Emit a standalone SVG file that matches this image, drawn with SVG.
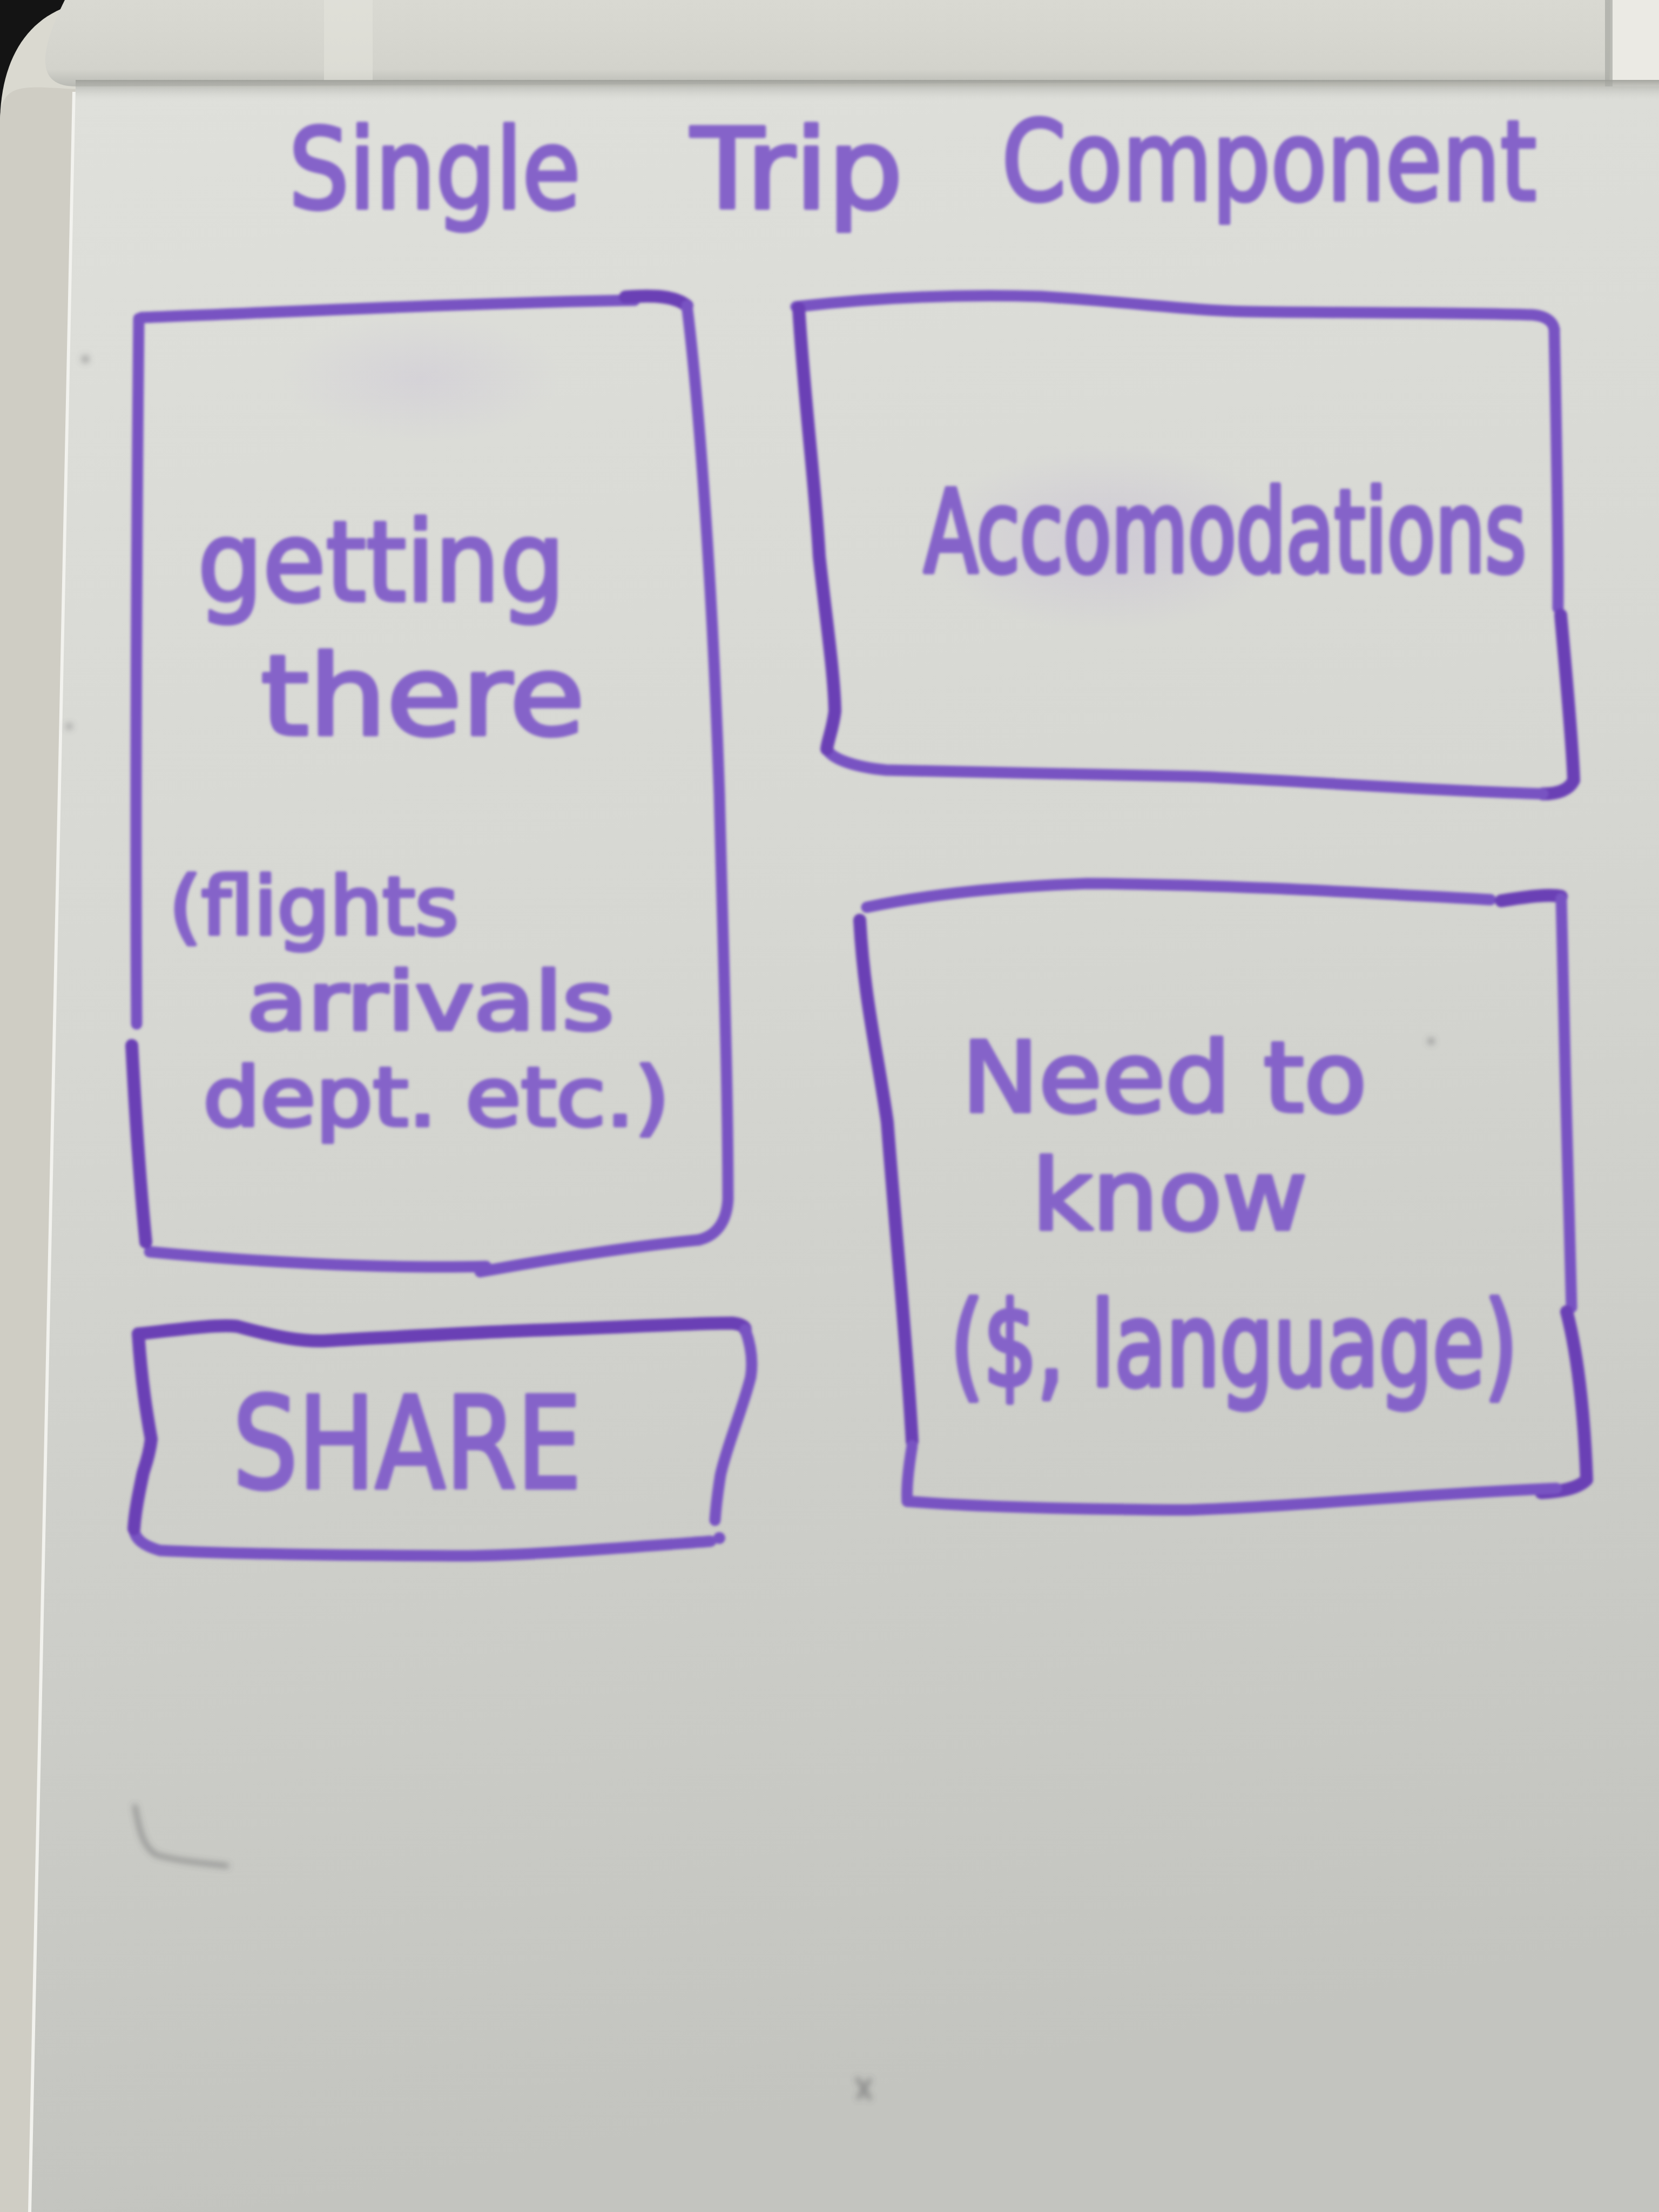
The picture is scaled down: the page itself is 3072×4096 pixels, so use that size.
<svg xmlns="http://www.w3.org/2000/svg" width="3072" height="4096" viewBox="0 0 3072 4096">
  <defs>
    <linearGradient id="boardFill" x1="0" y1="0" x2="0.15" y2="1">
      <stop offset="0" stop-color="#dfe0db"/>
      <stop offset="0.45" stop-color="#d6d7d2"/>
      <stop offset="1" stop-color="#c3c4bf"/>
    </linearGradient>
    <linearGradient id="ledgeFill" x1="0" y1="0" x2="0" y2="1">
      <stop offset="0" stop-color="#d9d9d2"/>
      <stop offset="0.8" stop-color="#d3d3cc"/>
      <stop offset="1" stop-color="#b9bab4"/>
    </linearGradient>
    <linearGradient id="shadowBand" x1="0" y1="0" x2="0" y2="1">
      <stop offset="0" stop-color="#9d9e98" stop-opacity="0.9"/>
      <stop offset="1" stop-color="#d8d9d4" stop-opacity="0"/>
    </linearGradient>
    <radialGradient id="ghost" cx="0.5" cy="0.5" r="0.5">
      <stop offset="0" stop-color="#a990d6" stop-opacity="0.22"/>
      <stop offset="1" stop-color="#a990d6" stop-opacity="0"/>
    </radialGradient>
    <filter id="soft" x="-5%" y="-5%" width="110%" height="110%">
      <feGaussianBlur stdDeviation="2.5"/>
    </filter>
    <filter id="smudge" x="-20%" y="-20%" width="140%" height="140%">
      <feGaussianBlur stdDeviation="6"/>
    </filter>
    <style>
      .ink { fill: none; stroke: #7853c2; stroke-width: 21; stroke-linecap: round; stroke-linejoin: round; }
      .heavy { stroke: #6a3fb5; stroke-width: 24; }
      .txt { font-family: "DejaVu Sans", "Liberation Sans", sans-serif; fill: #8564c9; stroke: #8564c9; stroke-width: 7; stroke-linejoin: round; }
      .mark { fill: none; stroke: #55565a; stroke-width: 8; stroke-linecap: round; opacity: 0.5; }
    </style>
  </defs>

  <!-- dark background behind the board corner -->
  <rect x="0" y="0" width="3072" height="4096" fill="#141414"/>

  <!-- board frame with rounded top-left corner -->
  <path d="M0,4096 L0,230 C0,90 70,0 200,0 L3072,0 L3072,4096 Z" fill="#dad9d0"/>

  <!-- left frame strip -->
  <path d="M0,230 C0,150 40,160 140,165 L58,4096 L0,4096 Z" fill="#cfcdc4"/>
  <path d="M138,170 L56,4096" stroke="#f2f2ee" stroke-width="8" fill="none"/>

  <!-- top ledge -->
  <path d="M120,0 L2980,0 L2980,150 L140,160 C80,160 60,120 120,0 Z" fill="url(#ledgeFill)"/>
  <rect x="600" y="0" width="90" height="150" fill="#e6e5de" opacity="0.5"/>
  <!-- right end cap of the ledge -->
  <rect x="2982" y="0" width="90" height="165" fill="#ebeae4"/>
  <rect x="2972" y="0" width="14" height="165" fill="#a7a8a2" opacity="0.7"/>

  <!-- writing surface -->
  <path d="M140,160 L3072,160 L3072,4096 L58,4096 Z" fill="url(#boardFill)"/>
  <rect x="140" y="148" width="2932" height="40" fill="url(#shadowBand)"/>

  <!-- faint erased ink ghosts -->
  <ellipse cx="2050" cy="1000" rx="330" ry="170" fill="url(#ghost)"/>
  <ellipse cx="780" cy="700" rx="260" ry="120" fill="url(#ghost)" opacity="0.6"/>

  <!-- stray specks on the board -->
  <g filter="url(#smudge)">
    <path class="mark" d="M250,3345 C258,3390 265,3420 290,3435 C340,3448 380,3450 420,3455"/>
    <path class="mark" d="M1588,3850 L1610,3885 M1610,3852 L1590,3884"/>
    <circle cx="2650" cy="1928" r="6" fill="#66666a" opacity="0.6"/>
    <circle cx="158" cy="665" r="7" fill="#66666a" opacity="0.5"/>
    <circle cx="128" cy="1345" r="6" fill="#66666a" opacity="0.5"/>
  </g>

  <!-- heading -->
  <g id="title" filter="url(#soft)">
    <text class="txt" x="535" y="385" font-size="205" textLength="540" lengthAdjust="spacingAndGlyphs">Single</text>
    <text class="txt" x="1280" y="385" font-size="205" textLength="392" lengthAdjust="spacingAndGlyphs">Trip</text>
    <text class="txt" x="1855" y="370" font-size="205" textLength="990" lengthAdjust="spacingAndGlyphs">Component</text>
  </g>

  <!-- node: getting there -->
  <g id="node-getting-there" filter="url(#soft)">
    <path class="ink" d="M262,588 C520,578 900,560 1175,556"/>
    <path class="ink heavy" d="M1158,550 C1210,546 1250,548 1272,566"/>
    <path class="ink" d="M1272,566 C1295,750 1320,1100 1332,1470 C1340,1800 1348,2000 1348,2221 C1345,2270 1320,2290 1294,2296"/>
    <path class="ink" d="M1294,2296 C1150,2310 1000,2335 889,2355"/>
    <path class="ink" d="M277,2318 C450,2335 700,2350 900,2345"/>
    <path class="ink" d="M257,590 C254,900 250,1400 253,1896"/>
    <path class="ink heavy" d="M244,1936 C250,2050 258,2180 270,2300"/>
    <text class="txt" x="366" y="1112" font-size="205" textLength="680" lengthAdjust="spacingAndGlyphs">getting</text>
    <text class="txt" x="483" y="1360" font-size="205" textLength="600" lengthAdjust="spacingAndGlyphs">there</text>
    <text class="txt" x="313" y="1730" font-size="148" textLength="536" lengthAdjust="spacingAndGlyphs">(flights</text>
    <text class="txt" x="457" y="1906" font-size="148" textLength="680" lengthAdjust="spacingAndGlyphs">arrivals</text>
    <text class="txt" x="376" y="2084" font-size="150" textLength="864" lengthAdjust="spacingAndGlyphs">dept. etc.)</text>
  </g>

  <!-- node: accomodations (narrow, tall lettering via vertical stretch) -->
  <g id="node-accomodations" filter="url(#soft)">
    <path class="ink" d="M1474,568 C1650,548 1800,545 1928,549 C2100,560 2200,575 2311,577 C2500,580 2700,578 2838,583 C2862,585 2876,595 2878,610"/>
    <path class="ink" d="M2878,610 C2882,800 2886,1000 2885,1126"/>
    <path class="ink heavy" d="M2890,1139 C2900,1250 2912,1380 2914,1445 C2906,1462 2885,1470 2857,1470"/>
    <path class="ink" d="M2857,1470 C2600,1462 2400,1445 2216,1438 C1950,1432 1750,1430 1641,1426 C1580,1420 1540,1405 1531,1387"/>
    <path class="ink heavy" d="M1479,571 C1490,750 1510,900 1517,1030 C1530,1150 1545,1250 1546,1317 C1542,1350 1533,1370 1531,1387"/>
    <text class="txt" transform="translate(1711,1058) scale(1,1.44)" x="0" y="0" font-size="146" textLength="1115" lengthAdjust="spacingAndGlyphs">Accomodations</text>
  </g>

  <!-- node: need to know -->
  <g id="node-need-to-know" filter="url(#soft)">
    <path class="ink" d="M1605,1680 C1750,1650 1900,1640 2013,1636 C2300,1638 2550,1655 2760,1666"/>
    <path class="ink heavy" d="M2780,1668 C2830,1660 2870,1655 2891,1660"/>
    <path class="ink" d="M2891,1664 C2895,1900 2905,2200 2910,2421"/>
    <path class="ink heavy" d="M2901,2429 C2925,2520 2935,2650 2938,2740 C2920,2758 2885,2762 2854,2764"/>
    <path class="ink" d="M2882,2756 C2600,2768 2400,2790 2198,2796 C2000,2795 1800,2790 1680,2780"/>
    <path class="ink heavy" d="M1592,1704 C1600,1850 1625,1950 1643,2078 C1660,2300 1680,2500 1689,2669"/>
    <path class="ink" d="M1689,2677 C1682,2720 1678,2755 1680,2780"/>
    <text class="txt" x="1781" y="2058" font-size="180" textLength="750" lengthAdjust="spacingAndGlyphs">Need to</text>
    <text class="txt" x="1911" y="2276" font-size="180" textLength="510" lengthAdjust="spacingAndGlyphs">know</text>
    <text class="txt" transform="translate(1760,2565) scale(1,1.4)" x="0" y="0" font-size="153" textLength="1050" lengthAdjust="spacingAndGlyphs">($, language)</text>
  </g>

  <!-- node: share -->
  <g id="node-share" filter="url(#soft)">
    <path class="ink heavy" d="M256,2470 C330,2462 400,2452 439,2456 C520,2478 560,2484 599,2483 C800,2472 900,2466 997,2463 C1150,2458 1280,2450 1356,2450 C1372,2452 1380,2456 1380,2462"/>
    <path class="ink" d="M1380,2462 C1392,2495 1394,2525 1390,2550 C1375,2610 1345,2680 1334,2732 C1328,2770 1325,2800 1324,2815"/>
    <circle cx="1332" cy="2848" r="11" fill="#7853c2"/>
    <path class="ink" d="M1316,2854 C1100,2870 950,2882 838,2881 C600,2880 400,2876 296,2871 C265,2862 250,2850 248,2831"/>
    <path class="ink heavy" d="M256,2470 C262,2560 272,2620 280,2665 C276,2700 266,2720 264,2732 C256,2770 250,2800 248,2831"/>
    <text class="txt" x="431" y="2755" font-size="235" textLength="646" lengthAdjust="spacingAndGlyphs">SHARE</text>
  </g>

  <!-- no connectors are drawn between the sections -->
  <g id="connectors"/>
</svg>
